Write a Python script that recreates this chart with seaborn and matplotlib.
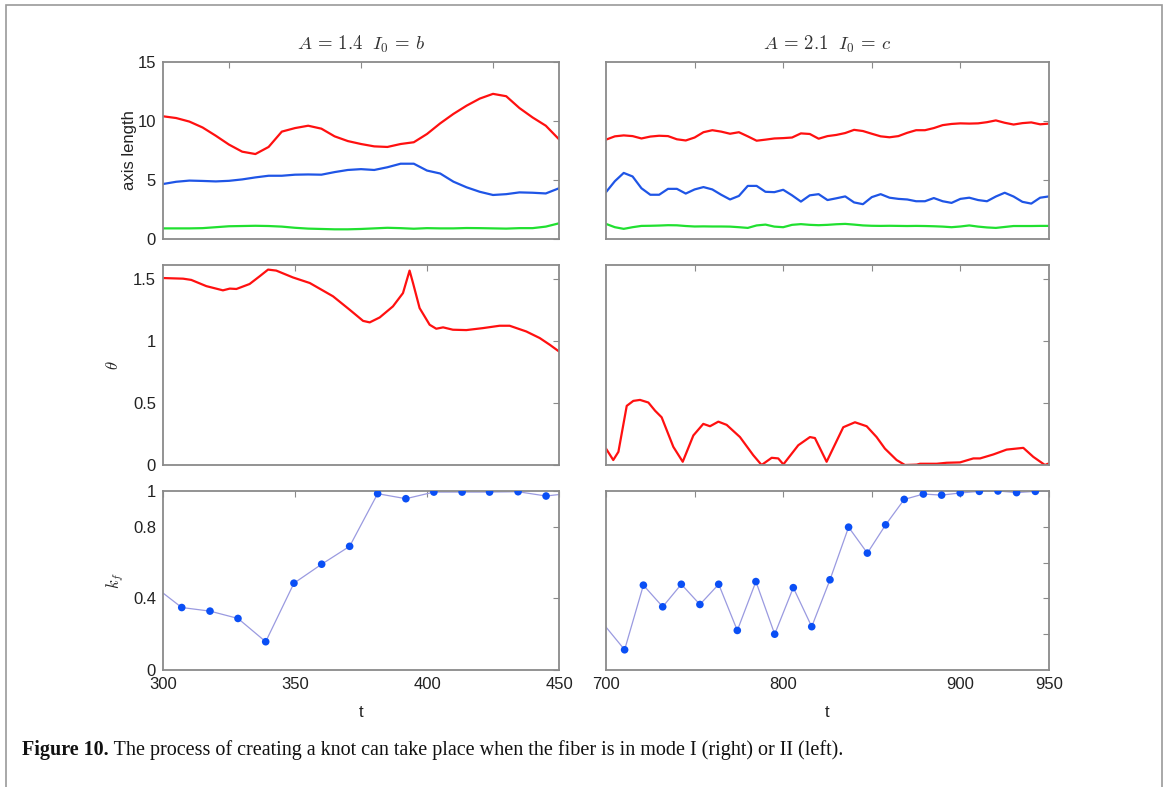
import numpy as np
import pandas as pd
import matplotlib
matplotlib.use("Agg")
import matplotlib.pyplot as plt
from matplotlib.patches import Rectangle
import seaborn as sns

# ---------------- data ----------------
# mode II run (left column), t = 300..450
t_left = [300, 305, 310, 315, 320, 325, 330, 335, 340, 345, 350, 355, 360, 365, 370,
          375, 380, 385, 390, 395, 400, 405, 410, 415, 420, 425, 430, 435, 440, 445, 450]
axis1_left = [10.4, 10.25, 9.95, 9.45, 8.75, 8.0, 7.4, 7.2, 7.8, 9.1, 9.4, 9.6, 9.35, 8.7, 8.3,
              8.05, 7.85, 7.8, 8.05, 8.2, 8.9, 9.8, 10.6, 11.3, 11.9, 12.3, 12.1, 11.1, 10.3, 9.6, 8.45]
axis2_left = [4.66, 4.85, 4.95, 4.92, 4.88, 4.93, 5.05, 5.22, 5.36, 5.36, 5.45, 5.47, 5.45, 5.67, 5.85,
              5.92, 5.85, 6.08, 6.38, 6.38, 5.8, 5.55, 4.86, 4.38, 4.0, 3.73, 3.8, 3.95, 3.92, 3.86, 4.3]
axis3_left = [0.9, 0.9, 0.9, 0.92, 1.0, 1.08, 1.1, 1.12, 1.1, 1.05, 0.95, 0.88, 0.85, 0.82, 0.82,
              0.85, 0.9, 0.95, 0.92, 0.87, 0.92, 0.9, 0.9, 0.93, 0.92, 0.9, 0.88, 0.92, 0.92, 1.05, 1.33]

t_theta_left = [300, 307.6, 310.7, 316.4, 322.7, 325.3, 327.8, 332.8, 336.6, 339.8, 342.9, 349.2,
                355.6, 364.4, 370.7, 375.8, 378.3, 382.1, 387.1, 390.9, 393.4, 394.7, 397.2, 401.0,
                403.5, 406.1, 409.8, 414.9, 421.2, 427.5, 431.3, 437.6, 442.7, 446.5, 450]
theta_left = [1.505, 1.5, 1.49, 1.44, 1.406, 1.42, 1.417, 1.457, 1.519, 1.573, 1.565, 1.51,
              1.465, 1.358, 1.25, 1.16, 1.148, 1.188, 1.277, 1.384, 1.565, 1.465, 1.263, 1.129,
              1.097, 1.108, 1.089, 1.086, 1.102, 1.121, 1.121, 1.075, 1.022, 0.968, 0.914]

t_kf_left = [296.5, 307.1, 317.8, 328.4, 338.9, 349.6, 360.1, 370.7, 381.3, 392.0,
             402.6, 413.3, 423.7, 434.5, 445.1, 455.7]
kf_left = [0.47, 0.349, 0.329, 0.288, 0.158, 0.485, 0.591, 0.691, 0.985, 0.957,
           0.994, 0.994, 0.994, 0.996, 0.972, 0.99]

# mode I run (right column), t = 700..950
t_right = [700, 705, 710, 715, 720, 725, 730, 735, 740, 745, 750, 755, 760, 765, 770, 775, 780,
           785, 790, 795, 800, 805, 810, 815, 820, 825, 830, 835, 840, 845, 850, 855, 860, 865,
           870, 875, 880, 885, 890, 895, 900, 905, 910, 915, 920, 925, 930, 935, 940, 945, 950]
axis1_right = [8.42, 8.7, 8.78, 8.72, 8.52, 8.68, 8.75, 8.72, 8.45, 8.35, 8.6, 9.05, 9.22, 9.1,
               8.92, 9.05, 8.7, 8.33, 8.42, 8.52, 8.55, 8.6, 8.95, 8.9, 8.5, 8.72, 8.82, 8.98,
               9.25, 9.15, 8.92, 8.7, 8.62, 8.72, 9.0, 9.22, 9.22, 9.4, 9.65, 9.75, 9.8, 9.78,
               9.8, 9.9, 10.05, 9.85, 9.7, 9.82, 9.88, 9.72, 9.78]
axis2_right = [3.97, 4.9, 5.6, 5.3, 4.3, 3.75, 3.75, 4.25, 4.25, 3.85, 4.2, 4.4, 4.2, 3.75, 3.35,
               3.65, 4.5, 4.5, 4.0, 3.97, 4.17, 3.7, 3.17, 3.7, 3.8, 3.3, 3.45, 3.61, 3.1, 2.95,
               3.55, 3.8, 3.5, 3.4, 3.35, 3.2, 3.2, 3.47, 3.2, 3.06, 3.4, 3.5, 3.3, 3.2, 3.6,
               3.92, 3.6, 3.15, 3.0, 3.5, 3.61]
axis3_right = [1.28, 1.0, 0.86, 1.0, 1.11, 1.12, 1.14, 1.17, 1.16, 1.1, 1.06, 1.07, 1.06, 1.06,
               1.05, 1.0, 0.94, 1.15, 1.22, 1.05, 1.0, 1.2, 1.26, 1.2, 1.17, 1.2, 1.25, 1.28,
               1.22, 1.15, 1.12, 1.11, 1.12, 1.11, 1.1, 1.11, 1.1, 1.08, 1.05, 1.0, 1.06, 1.15,
               1.05, 0.98, 0.94, 1.02, 1.1, 1.1, 1.1, 1.11, 1.11]

t_theta_right = [700, 704.1, 707.0, 711.7, 715.4, 719.2, 723.9, 727.7, 731.4, 738.0, 743.3,
                 749.3, 754.9, 758.7, 763.4, 768.1, 775.6, 783.1, 787.8, 793.5, 797.2, 800.1,
                 808.5, 815.1, 817.9, 824.5, 833.9, 840.5, 847.1, 852.7, 857.4, 864.0, 868.7,
                 875.3, 877.2, 886.6, 892.2, 899.8, 907.3, 911.1, 918.6, 926.1, 935.5, 941.1,
                 947.7, 950]
theta_right = [0.132, 0.04, 0.106, 0.476, 0.516, 0.524, 0.503, 0.437, 0.384, 0.146, 0.026,
               0.238, 0.331, 0.312, 0.349, 0.323, 0.225, 0.079, 0.0, 0.058, 0.053, 0.005,
               0.159, 0.225, 0.217, 0.026, 0.304, 0.344, 0.312, 0.225, 0.132, 0.04, 0.0,
               0.003, 0.01, 0.01, 0.018, 0.021, 0.053, 0.053, 0.085, 0.124, 0.138, 0.066,
               0.0, 0.013]

t_kf_right = [697.5, 710.5, 721.1, 732.0, 742.5, 753.0, 763.6, 774.1, 784.6, 795.2, 805.7,
              816.1, 826.4, 836.9, 847.5, 857.8, 868.3, 879.1, 889.4, 899.9, 910.7, 921.2,
              931.7, 942.3, 952.8]
kf_right = [0.27, 0.113, 0.474, 0.353, 0.479, 0.366, 0.479, 0.221, 0.494, 0.2, 0.46,
            0.242, 0.504, 0.798, 0.653, 0.811, 0.953, 0.983, 0.977, 0.989, 0.998, 1.0,
            0.991, 0.998, 1.0]

titles = [r"$A\, =\, 1.4\ \ I_0\, =\, b$", r"$A\, =\, 2.1\ \ I_0\, =\, c$"]
caption_bold = "Figure 10."
caption_text = " The process of creating a knot can take place when the fiber is in mode I (right) or II (left)."

# ---------------- style ----------------
sns.set_style("white")
plt.rcParams["font.family"] = ["Liberation Sans", "DejaVu Sans"]
plt.rcParams["mathtext.fontset"] = "cm"
plt.rcParams["xtick.direction"] = "in"
plt.rcParams["ytick.direction"] = "in"

RED = "#ff1010"
BLUE = "#1f55e6"
GREEN = "#20e030"
SPINE = "#8a8a8a"
TXT = "#222222"

W, H = 1168, 787
fig = plt.figure(figsize=(W / 100, H / 100), dpi=100)
fig.patch.set_facecolor("white")


def box(l, t, r, b):
    return [l / W, 1 - b / H, (r - l) / W, (b - t) / H]


cols = [(163, 559), (606, 1049)]
rows = [(62, 239), (265, 465), (491, 670)]
axes = [[fig.add_axes(box(c[0], r[0], c[1], r[1])) for c in cols] for r in rows]


def style(ax):
    for s in ax.spines.values():
        s.set_visible(True)
        s.set_color(SPINE)
        s.set_linewidth(1.3)
    ax.tick_params(which="both", direction="in", length=4, width=0.8, color=SPINE,
                   top=True, right=True, labelsize=12, labelcolor=TXT, pad=5)
    ax.set_xlabel("")
    ax.set_ylabel("")


# top row: three axis lengths
for ax, t, a1, a2, a3, xl in [(axes[0][0], t_left, axis1_left, axis2_left, axis3_left, (300, 450)),
                              (axes[0][1], t_right, axis1_right, axis2_right, axis3_right, (700, 950))]:
    df = pd.DataFrame({"t": t, "a1": a1, "a2": a2, "a3": a3})
    sns.lineplot(data=df, x="t", y="a1", ax=ax, color=RED, lw=1.6)
    sns.lineplot(data=df, x="t", y="a2", ax=ax, color=BLUE, lw=1.6)
    sns.lineplot(data=df, x="t", y="a3", ax=ax, color=GREEN, lw=1.6)
    ax.set_xlim(*xl)
    ax.set_ylim(0, 15)
    style(ax)

# middle row: angle
for ax, t, th, xl in [(axes[1][0], t_theta_left, theta_left, (300, 450)),
                      (axes[1][1], t_theta_right, theta_right, (700, 950))]:
    df = pd.DataFrame({"t": t, "theta": th})
    sns.lineplot(data=df, x="t", y="theta", ax=ax, color=RED, lw=1.6, sort=False)
    ax.set_xlim(*xl)
    ax.set_ylim(0, 1.61)
    style(ax)

# bottom row: knot fraction
for ax, t, kf, xl in [(axes[2][0], t_kf_left, kf_left, (300, 450)),
                      (axes[2][1], t_kf_right, kf_right, (700, 950))]:
    df = pd.DataFrame({"t": t, "kf": kf})
    sns.lineplot(data=df, x="t", y="kf", ax=ax, color="#9a9ae0", lw=0.9)
    sns.scatterplot(data=df, x="t", y="kf", ax=ax, color="#0a4ff5", s=30,
                    edgecolor="none", zorder=3)
    ax.set_xlim(*xl)
    ax.set_ylim(0, 1)
    style(ax)

# ticks, left column
axes[0][0].set_xticks([325, 375, 425])
axes[0][0].set_xticklabels([])
axes[0][0].set_yticks([0, 5, 10, 15])
axes[1][0].set_xticks([350, 400])
axes[1][0].set_xticklabels([])
axes[1][0].set_yticks([0, 0.5, 1, 1.5])
axes[1][0].set_yticklabels(["0", "0.5", "1", "1.5"])
axes[2][0].set_xticks([300, 350, 400, 450])
axes[2][0].set_yticks([0, 0.4, 0.8, 1])
axes[2][0].set_yticklabels(["0", "0.4", "0.8", "1"])

# ticks, right column
for ax in (axes[0][1], axes[1][1]):
    ax.set_xticks([750, 800, 850, 900])
    ax.set_xticklabels([])
axes[0][1].set_yticks([5, 10])
axes[1][1].set_yticks([0.5, 1, 1.5])
axes[2][1].set_yticks([0.2, 0.4, 0.6, 0.8])
for ax in (axes[0][1], axes[1][1], axes[2][1]):
    ax.set_yticklabels([])
axes[2][1].set_xticks([700, 750, 800, 850, 900, 950])
axes[2][1].set_xticklabels(["700", "", "800", "", "900", "950"])

# labels
axes[0][0].set_ylabel("axis length", fontsize=12, color=TXT)
axes[0][0].yaxis.set_label_coords(-0.066, 0.5)
axes[1][0].set_ylabel(r"$\theta$", fontsize=12, color=TXT)
axes[1][0].yaxis.set_label_coords(-0.106, 0.5)
axes[2][0].set_ylabel(r"$k_f$", fontsize=12, color=TXT)
axes[2][0].yaxis.set_label_coords(-0.094, 0.5)
for ax in axes[2]:
    ax.set_xlabel("t", fontsize=12, color=TXT)
    ax.xaxis.set_label_coords(0.5, -0.195)
for ax, ttl in zip(axes[0], titles):
    ax.set_title(ttl, fontsize=13.5, color="#333333", pad=9)

# outer frame
fig.add_artist(Rectangle((6 / W, -0.05), (1162 - 6) / W, 1.05 - 5 / H,
                         transform=fig.transFigure, fill=False,
                         edgecolor="#9a9a9a", lw=1.2, clip_on=False))

# caption
cap_font = ["Liberation Serif", "DejaVu Serif"]
cap1 = fig.text(22 / W, 1 - 750 / H, caption_bold, fontsize=14.5, fontweight="bold",
                family=cap_font, va="center", ha="left", color="#111111")
fig.canvas.draw()
bb = cap1.get_window_extent(renderer=fig.canvas.get_renderer())
fig.text(bb.x1 / W, 1 - 750 / H, caption_text, fontsize=14.5,
         family=cap_font, va="center", ha="left", color="#111111")

fig.savefig("out.png", dpi=100, facecolor="white")
